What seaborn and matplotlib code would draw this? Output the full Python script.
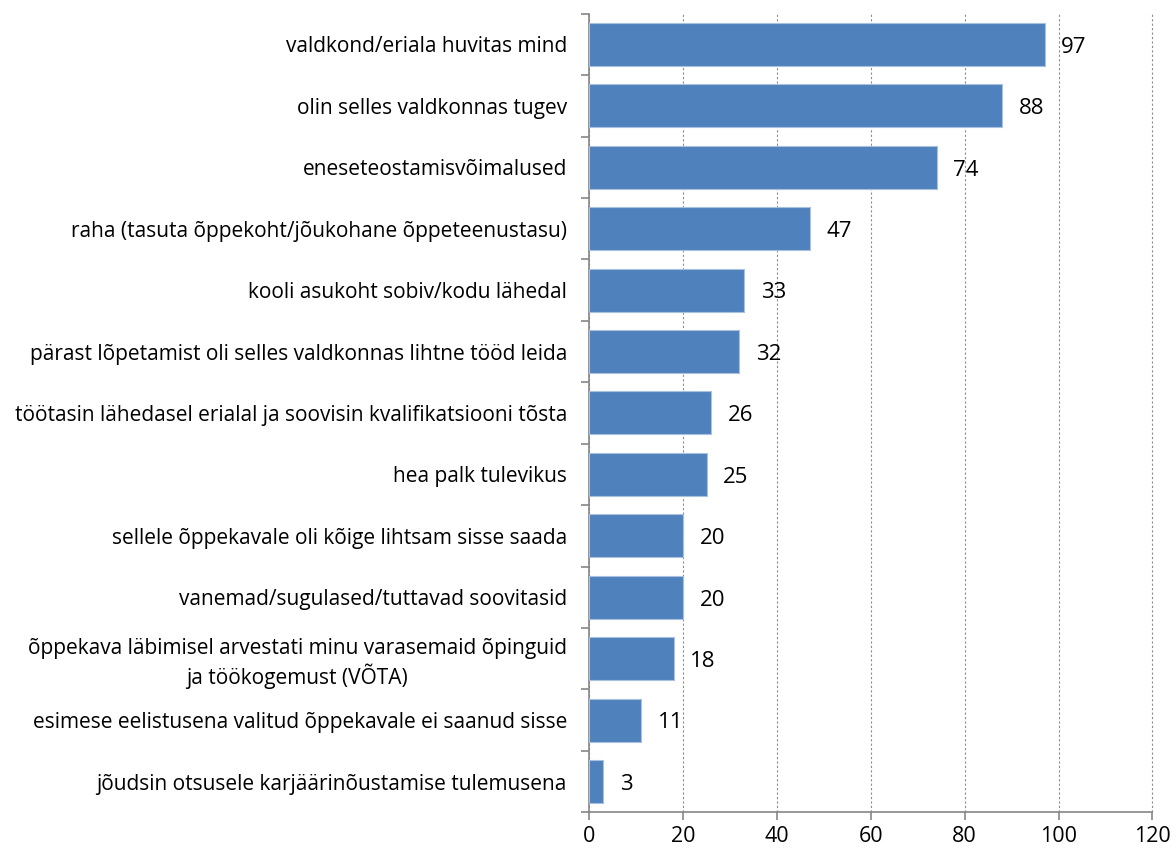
import pandas as pd
import matplotlib.pyplot as plt
import seaborn as sns
import numpy as np

# andmed
categories = [
    "valdkond/eriala huvitas mind",
    "olin selles valdkonnas tugev",
    "eneseteostamisvõimalused",
    "raha (tasuta õppekoht/jõukohane õppeteenustasu)",
    "kooli asukoht sobiv/kodu lähedal",
    "pärast lõpetamist oli selles valdkonnas lihtne tööd leida",
    "töötasin lähedasel erialal ja soovisin kvalifikatsiooni tõsta",
    "hea palk tulevikus",
    "sellele õppekavale oli kõige lihtsam sisse saada",
    "vanemad/sugulased/tuttavad soovitasid",
    "õppekava läbimisel arvestati minu varasemaid õpinguid\nja töökogemust (VÕTA)",
    "esimese eelistusena valitud õppekavale ei saanud sisse",
    "jõudsin otsusele karjäärinõustamise tulemusena",
]
values = [97, 88, 74, 47, 33, 32, 26, 25, 20, 20, 18, 11, 3]
xticks = [0, 20, 40, 60, 80, 100, 120]

df = pd.DataFrame({"cat": categories, "val": values})

sns.set_style("white")
plt.rcParams["font.family"] = ["Open Sans", "DejaVu Sans"]

fig, ax = plt.subplots(figsize=(11.76, 8.55), dpi=100)
fig.subplots_adjust(left=0.501, right=0.98, top=0.984, bottom=0.05)

sns.barplot(data=df, x="val", y="cat", color="#4F81BD", saturation=1,
            width=0.7, ax=ax, zorder=3)
for p in ax.patches:
    p.set_edgecolor("#A9C0DE")
    p.set_linewidth(0.8)

for i, v in enumerate(values):
    ax.annotate(str(v), (v, i), xytext=(12, -2), textcoords="offset points",
                va="center", ha="left", fontsize=16, color="black")

ax.set_xlim(0, 120)
ax.set_ylim(12.5, -0.5)
ax.set_xticks(xticks)
ax.set_xticklabels([str(t) for t in xticks], fontsize=15.5)
ax.set_xlabel("")
ax.set_ylabel("")

ax.tick_params(axis="y", which="major", left=False, length=0, pad=16,
               labelsize=15, labelcolor="black")
for lab in ax.get_yticklabels():
    lab.set_multialignment("center")
ax.set_yticks(np.arange(-0.5, 13, 1), minor=True)
ax.tick_params(axis="y", which="minor", left=True, length=6, width=1.2,
               color="#868686", direction="out")
ax.tick_params(axis="x", bottom=True, length=6, width=1.2, color="#868686",
               direction="out", pad=4, labelcolor="black")

ax.xaxis.grid(True, linestyle=(0, (2, 2)), color="#8c8c8c", linewidth=0.8, zorder=0)
for gl in ax.get_xgridlines():
    gl.set_clip_on(False)
ax.set_axisbelow(True)

sns.despine(ax=ax, top=True, right=True)
for s in ["left", "bottom"]:
    ax.spines[s].set_color("#868686")
    ax.spines[s].set_linewidth(1.2)

fig.savefig("out.png", dpi=100)
